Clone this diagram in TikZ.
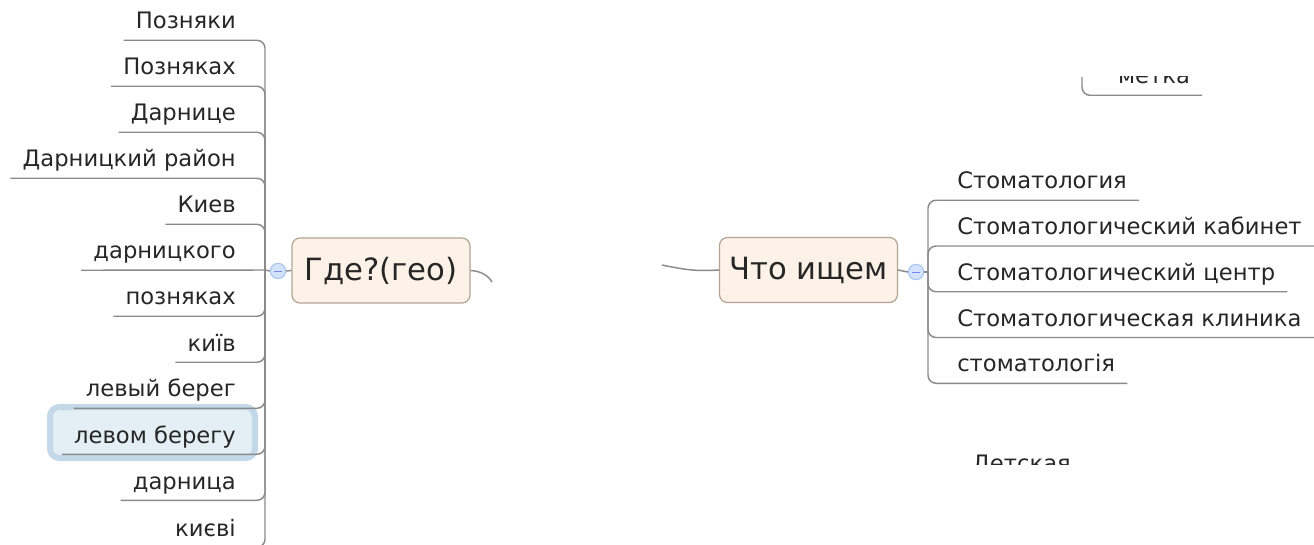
\documentclass[tikz,border=0pt]{standalone}
\usepackage{fontspec}
\setmainfont{DejaVu Sans}
\definecolor{linegray}{HTML}{8A8A8A}
\definecolor{textgray}{HTML}{262626}
\definecolor{rootfill}{HTML}{FDF2E8}
\definecolor{rootdraw}{HTML}{B3A393}
\definecolor{selfill}{HTML}{E3EEF5}
\definecolor{seldraw}{HTML}{C3D8E8}
\definecolor{circfill}{HTML}{D3E3FB}
\definecolor{circdraw}{HTML}{A9C4EE}
\begin{document}
\begin{tikzpicture}[x=0.75pt,y=-0.75pt,
  branch/.style={draw=linegray, line width=1.1pt, rounded corners=6pt},
  item/.style={font=\fontsize{17}{19}\selectfont, text=textgray, inner xsep=9pt, inner ysep=0pt, text height=13pt, text depth=8.25pt},
  rootbox/.style={draw=rootdraw, fill=rootfill, line width=0.9pt, rounded corners=6pt, minimum width=133.5pt, minimum height=48.75pt, inner sep=0pt, font=\fontsize{23}{25}\selectfont, text=textgray},
  selbox/.style={draw=seldraw, fill=selfill, line width=4.5pt, rounded corners=7pt, minimum width=153.75pt, minimum height=38.25pt, inner sep=0pt},
  collapse/.style={circle, draw=circdraw, fill=circfill, line width=0.8pt, minimum size=11.5pt, inner sep=0pt},
  minus/.style={draw=circdraw!70!blue, line width=0.7pt}
]
\useasboundingbox (0,0) rectangle (1314,545);

% selected highlight
\node[selbox] (sel) at (152.5,432.5) {};

% left root
\node[rootbox] (g) at (381,270.5) {Где?(гео)};
\coordinate (Jl) at (265,270);
\node[collapse] (cl) at (278,271) {};
\draw[minus] ([xshift=-2.8pt]cl.center) -- ([xshift=2.8pt]cl.center);

% left items
\node[item, anchor=base east] (l1)  at (248,29)  {Позняки};
\node[item, anchor=base east] (l2)  at (248,75)  {Позняках};
\node[item, anchor=base east] (l3)  at (248,121) {Дарнице};
\node[item, anchor=base east] (l4)  at (248,167) {Дарницкий район};
\node[item, anchor=base east] (l5)  at (248,213) {Киев};
\node[item, anchor=base east] (l6)  at (248,259) {дарницкого};
\node[item, anchor=base east] (l7)  at (248,305) {позняках};
\node[item, anchor=base east] (l8)  at (248,351) {київ};
\node[item, anchor=base east] (l9)  at (248,397) {левый берег};
\node[item, anchor=base east] (l10) at (248,443) {левом берегу};
\node[item, anchor=base east] (l11) at (248,489) {дарница};
\node[item, anchor=base east] (l12) at (248,536) {києві};

\foreach \n in {l1,l2,l3,l4,l5,l7,l8,l9,l10,l11,l12}
  \draw[branch] (Jl) |- (\n.south west);
\draw[branch] (Jl) -- (l6.south west);
\draw[branch] (Jl) -- (cl.west);
\draw[branch] (cl.east) -- (g.west);

% connector from left root to hidden centre
\coordinate (gx) at (492,282);
\draw[branch] (g.east) .. controls (480,271) and (488,275) .. (gx);

% right root
\node[rootbox] (c) at (808.5,270) {Что ищем};
\coordinate (Jr) at (928,272);
\node[collapse] (cr) at (916,272) {};
\draw[minus] ([xshift=-2.8pt]cr.center) -- ([xshift=2.8pt]cr.center);
\coordinate (cx) at (662,265);
\draw[branch] (cx) .. controls (690,271) and (700,271) .. (c.west);
\draw[branch] (c.east) -- (cr.west);
\draw[branch] (cr.east) -- (Jr);

% right items
\node[item, anchor=base west] (r1) at (945,189)    {Стоматология};
\node[item, anchor=base west] (r2) at (945,234.75) {Стоматологический кабинет};
\node[item, anchor=base west] (r3) at (945,280.5)  {Стоматологический центр};
\node[item, anchor=base west] (r4) at (945,326.25) {Стоматологическая клиника};
\node[item, anchor=base west] (r5) at (945,372)    {стоматологія};
\foreach \n in {r1,r2,r3,r4,r5}
  \draw[branch] (Jr) |- (\n.south east);

% clipped fragments
\begin{scope}
  \clip (1095,77) rectangle (1215,100);
  \node[item, anchor=base] (mt) at (1154,84) {метка};
\end{scope}
\coordinate (mtop) at (1082,77);
\draw[branch] (mtop) |- (mt.south east);

\begin{scope}
  \clip (955,440) rectangle (1085,464);
  \node[item, anchor=base west] (dt) at (960,471.5) {Детская};
\end{scope}
\end{tikzpicture}
\end{document}
